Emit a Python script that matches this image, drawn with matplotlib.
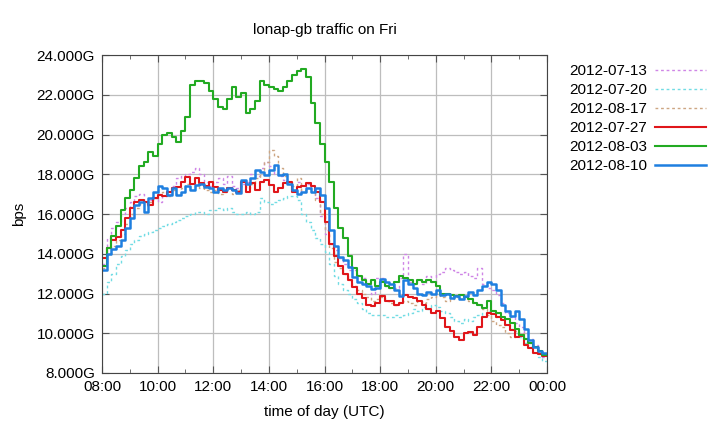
import matplotlib
matplotlib.use("Agg")
import matplotlib.pyplot as plt
import numpy as np

plt.rcParams["font.family"] = ["Liberation Sans", "DejaVu Sans"]

# --- 10-minute samples from 08:00 to 23:50 (Gbps)
d0713 = [13.5, 14.8, 15.3, 15.6, 16.0, 16.3, 16.6, 16.9, 17.0, 16.6, 16.7, 16.8,
         16.6, 16.9, 17.0, 17.4, 17.8, 17.9, 18.0, 18.1, 18.3, 18.0, 17.6, 17.4,
         17.6, 17.8, 17.5, 17.9, 17.4, 17.3, 17.5, 17.6, 18.0, 17.9, 18.3, 18.6,
         18.4, 18.0, 17.9, 17.7, 17.5, 17.2, 17.6, 17.1, 17.5, 17.3, 16.8, 15.9,
         15.0, 14.5, 14.2, 13.8, 13.5, 13.2, 13.2, 12.9, 12.8, 12.5, 12.0, 12.8,
         12.8, 12.4, 12.3, 12.3, 12.8, 14.0, 12.6, 12.5, 12.7, 12.5, 12.9, 12.6,
         13.0, 13.1, 13.3, 13.2, 13.1, 13.0, 13.1, 12.9, 12.8, 13.3, 12.5, 12.3,
         12.2, 11.9, 11.5, 11.0, 10.8, 10.5, 10.3, 10.0, 9.7, 9.4, 9.1, 8.8]
d0720 = [12.0, 12.6, 13.0, 13.5, 13.9, 14.2, 14.5, 14.7, 14.9, 15.0, 15.1, 15.2,
         15.3, 15.4, 15.5, 15.6, 15.7, 15.8, 15.9, 16.0, 16.1, 16.1, 16.0, 16.2,
         16.2, 16.3, 16.2, 16.3, 16.1, 16.0, 16.0, 16.1, 16.0, 16.1, 16.8, 16.6,
         16.5, 16.6, 16.7, 16.8, 16.9, 16.9, 16.7, 16.0, 15.6, 15.2, 14.8, 14.5,
         14.1, 13.5, 12.9, 12.5, 12.2, 12.0, 11.7, 11.5, 11.2, 11.0, 10.9, 10.9,
         10.9, 10.8, 10.8, 10.9, 10.8, 10.9, 11.0, 11.2, 11.1, 11.3, 11.2, 11.4,
         11.3, 11.1, 11.0, 10.8, 10.6, 10.5, 10.7, 10.6, 10.8, 10.9, 11.0, 11.1,
         11.0, 10.8, 10.7, 10.4, 10.2, 10.0, 9.8, 9.5, 9.3, 9.0, 8.8, 8.6]
d0817 = [13.3, 14.0, 14.4, 14.7, 15.0, 15.5, 16.0, 16.3, 16.5, 16.4, 16.6, 16.8,
         17.0, 17.1, 16.9, 17.2, 17.0, 17.3, 17.5, 17.2, 17.4, 17.3, 17.2, 17.1,
         17.2, 17.0, 17.1, 17.3, 17.0, 17.2, 17.4, 17.3, 17.5, 17.8, 18.2, 18.6,
         19.2, 18.9, 18.3, 17.9, 17.6, 17.4, 17.8, 17.2, 17.3, 17.1, 16.7, 16.0,
         15.2, 14.3, 13.6, 13.3, 13.0, 12.7, 12.4, 12.2, 12.0, 11.8, 11.6, 11.7,
         11.8, 11.6, 11.5, 11.4, 11.5, 11.6, 11.5, 11.4, 11.6, 11.5, 11.7, 11.8,
         11.9, 11.8, 11.6, 11.7, 11.8, 11.7, 11.9, 11.6, 11.5, 11.4, 11.2, 10.9,
         10.6, 10.4, 10.3, 10.0, 9.8, 10.1, 10.0, 9.7, 9.5, 9.3, 9.1, 8.9]
d0727 = [13.8, 14.3, 14.7, 14.85, 15.2, 15.8, 16.3, 16.6, 16.7, 16.6, 16.45, 16.8,
         16.95, 16.9, 17.1, 17.3, 17.35, 17.6, 17.85, 17.5, 17.8, 17.55, 17.4, 17.6,
         17.35, 17.2, 17.1, 17.3, 17.2, 17.1, 17.6, 17.1, 17.55, 17.2, 17.6, 17.7,
         17.45, 17.1, 17.3, 17.55, 17.6, 17.1, 17.35, 17.4, 17.55, 17.4, 17.1, 16.6,
         15.6, 14.5, 13.9, 13.4, 13.0, 12.7, 12.35, 12.0, 11.75, 11.4, 11.35, 11.5,
         11.85, 11.6, 11.6, 11.4, 11.5, 11.9, 11.8, 11.75, 11.6, 11.4, 11.2, 11.0,
         11.1, 10.75, 10.3, 10.1, 9.8, 9.65, 10.0, 10.05, 9.9, 10.3, 10.8, 11.0,
         10.95, 10.8, 10.65, 10.4, 10.15, 9.8, 9.85, 9.4, 9.25, 9.0, 8.95, 8.85]
d0803 = [13.4, 14.3, 14.9, 15.4, 16.2, 16.8, 17.2, 17.8, 18.4, 18.6, 19.1, 18.9,
         19.5, 20.0, 20.1, 19.9, 19.6, 20.2, 20.9, 22.5, 22.7, 22.7, 22.6, 22.2,
         21.8, 21.4, 21.3, 21.8, 22.4, 21.9, 22.1, 21.1, 21.3, 21.7, 22.7, 22.5,
         22.4, 22.3, 22.2, 22.4, 22.7, 23.0, 23.2, 23.3, 22.9, 21.6, 20.6, 19.5,
         18.6, 17.6, 16.3, 15.3, 14.8, 13.9, 13.3, 12.9, 12.7, 12.5, 12.7, 12.4,
         12.6, 12.4, 12.3, 12.6, 12.9, 12.8, 12.7, 12.5, 12.7, 12.6, 12.7, 12.6,
         12.4, 12.0, 12.0, 11.9, 11.85, 11.9, 11.8, 11.7, 11.5, 11.4, 11.25, 11.6,
         11.1, 11.0, 10.8, 10.7, 10.5, 10.2, 9.9, 9.7, 9.5, 9.3, 9.1, 8.9]
d0810 = [13.2, 14.0, 14.25, 14.4, 14.7, 15.3, 15.8, 16.45, 16.6, 16.1, 16.8, 17.1,
         17.4, 17.3, 16.95, 17.3, 16.95, 17.1, 17.4, 17.2, 17.45, 17.5, 17.35, 17.3,
         17.1, 17.3, 17.2, 17.3, 17.2, 17.05, 17.7, 17.5, 17.8, 18.2, 18.1, 17.95,
         18.2, 18.45, 17.95, 18.0, 17.5, 17.2, 17.0, 17.1, 17.3, 17.1, 17.3, 16.95,
         16.3, 15.2, 14.4, 13.85, 13.7, 13.35, 12.85, 12.6, 12.5, 12.4, 12.25, 12.3,
         12.75, 12.6, 12.5, 12.2, 11.85, 12.7, 12.5, 12.3, 12.0, 11.9, 12.1, 12.0,
         12.2, 11.9, 12.0, 11.75, 11.85, 11.7, 11.85, 12.1, 11.9, 12.2, 12.4, 12.6,
         12.5, 12.2, 11.4, 11.1, 10.85, 11.1, 10.7, 10.2, 9.65, 9.3, 9.1, 9.0]

labels = ["2012-07-13", "2012-07-20", "2012-08-17", "2012-07-27", "2012-08-03", "2012-08-10"]
series = [d0713, d0720, d0817, d0727, d0803, d0810]
colors = ["#cf86e6", "#72dce4", "#cda683", "#e0161a", "#22aa22", "#1e7fe0"]
styles = [(0, (2, 2)), (0, (2, 2)), (0, (2, 2)), "-", "-", "-"]
widths = [1.0, 1.0, 1.0, 1.5, 1.5, 1.8]

hours = 8 + np.arange(97) / 6.0

fig = plt.figure(figsize=(7.2, 4.32), dpi=100)
ax = fig.add_axes([0.1417, 0.1366, 0.618, 0.736])

for vals, lab, c, ls, lw in zip(series, labels, colors, styles, widths):
    y = np.array(vals + [vals[-1]])
    ax.step(hours, y, where="post", color=c, linestyle=ls, linewidth=lw, label=lab)

ax.set_xlim(8, 24)
ax.set_ylim(8, 24)
ax.set_xticks(np.arange(8, 25, 2))
ax.set_xticklabels(["%02d:00" % (h % 24) for h in range(8, 25, 2)])
ax.set_xticks(np.arange(8, 25, 1), minor=True)
ax.set_yticks(np.arange(8, 25, 2))
ax.set_yticklabels(["%.3fG" % v for v in range(8, 25, 2)])
ax.tick_params(which="both", direction="in", top=True, right=True, labelsize=11, pad=5)
ax.tick_params(which="major", length=5, color="#555555")
ax.tick_params(which="minor", length=3, color="#555555")
ax.grid(True, which="major", color="#bdbdbd", linewidth=0.9)
for s in ax.spines.values():
    s.set_color("#444444")

ax.set_title("lonap-gb traffic on Fri", fontsize=11, pad=15)
ax.set_xlabel("time of day (UTC)", fontsize=11, labelpad=8)
ax.set_ylabel("bps", fontsize=11, labelpad=8)

leg = ax.legend(loc="upper left", bbox_to_anchor=(1.03, 1.0), frameon=False,
                markerfirst=False, handlelength=3.3, handletextpad=0.5, fontsize=11,
                labelspacing=0.33, borderaxespad=0.2)

fig.savefig("out.png", dpi=100)
